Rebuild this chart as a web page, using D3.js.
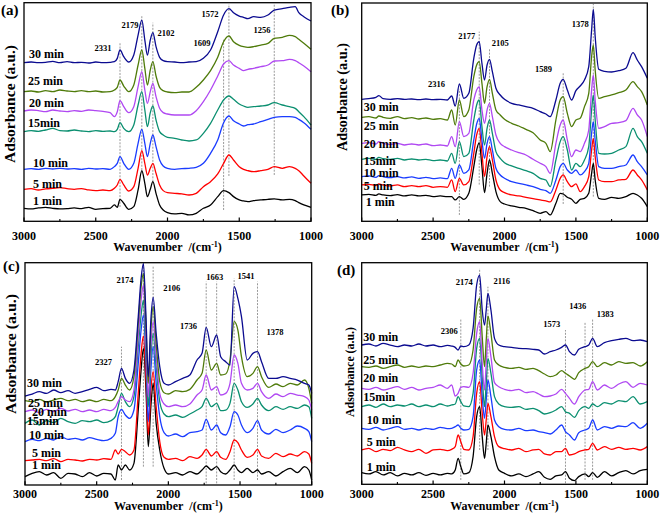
<!DOCTYPE html>
<html><head><meta charset="utf-8">
<script src="https://cdn.jsdelivr.net/npm/d3@7"></script>
<style>
html,body{margin:0;padding:0;background:#fff;}
svg{display:block;font-family:"Liberation Serif","Times New Roman",serif;}
</style></head><body>
<svg id="chart" width="661" height="513"></svg>
<script>
// ---------------- DATA ----------------
const seriesNames = ["1 min","5 min","10 min","15min","20 min","25 min","30 min"];
const xTicksMajor = [3000,2500,2000,1500,1000];
const xTicksMinor = [2750,2250,1750,1250];

// Panel (a)
const aWave = [3000,2950,2900,2850,2800,2750,2700,2650,2600,2550,2500,2450,2400,2370,2350,2331,2305,2270,2235,2205,2179,2158,2140,2120,2102,2080,2055,2030,2000,1950,1900,1850,1800,1750,1700,1650,1609,1572,1540,1500,1470,1440,1400,1350,1300,1256,1200,1150,1110,1085,1050,1000];
const a1  = [39,37,40,42,39,37,38,40,38,42,36,38,39,49,42,66,54,36,44,94,152,114,74,96,119,84,49,34,26,22,24,19,24,39,49,74,92,86,74,64,61,59,62,64,66,67,64,66,62,56,49,42];
const a5  = [96,98,94,97,99,101,98,96,98,94,92,94,92,99,109,126,109,91,104,159,212,174,139,159,174,144,109,92,86,84,82,79,84,104,119,142,174,199,184,164,156,152,149,152,156,164,159,164,159,152,136,114];
const a10 = [156,158,156,159,157,159,157,158,156,159,157,158,156,164,174,194,174,156,174,234,276,234,194,234,259,224,184,166,159,156,158,159,162,174,204,244,296,316,302,292,286,290,292,299,306,312,314,314,312,306,296,276];
const a15 = [269,272,270,274,279,272,271,274,271,269,272,270,271,269,276,296,279,269,289,349,389,334,284,326,346,304,269,259,252,249,244,241,244,264,294,334,364,376,366,352,346,342,344,346,349,356,349,344,339,329,314,289];
const a20 = [331,334,332,329,334,331,329,332,330,334,332,330,326,314,329,362,344,326,344,404,449,394,354,389,414,374,339,326,322,319,319,319,332,359,394,436,472,482,469,459,452,456,459,464,469,481,482,486,482,476,466,449];
const a25 = [389,391,388,392,389,394,391,389,392,389,391,388,389,394,402,424,406,389,409,469,514,459,409,454,479,436,402,392,388,386,388,388,402,424,452,492,539,556,539,528,524,522,524,529,534,549,552,558,554,546,534,516];
const a30 = [476,478,476,477,480,476,479,476,477,475,478,476,477,479,489,514,494,478,499,559,604,544,499,544,566,524,492,482,479,478,476,478,479,489,514,569,619,638,626,616,612,608,614,612,619,634,638,642,644,626,614,601];
const aPeaks = [2331,2179,2102,1609,1572,1256];

// Panel (b)
const bWave = [3000,2950,2900,2880,2850,2800,2750,2700,2650,2600,2550,2500,2450,2400,2370,2345,2316,2285,2250,2215,2195,2177,2158,2140,2122,2105,2085,2060,2030,2000,1950,1900,1850,1800,1750,1710,1680,1640,1610,1589,1560,1530,1500,1470,1440,1410,1390,1378,1365,1340,1300,1250,1200,1150,1100,1070,1040,1000];
const b1  = [79,81,78,82,79,77,80,76,79,76,78,74,76,74,74,64,74,66,84,164,214,236,164,86,144,184,144,89,59,52,46,42,39,32,24,29,19,54,84,82,72,66,54,66,69,84,144,174,124,69,66,72,69,74,84,79,69,44];
const b5  = [109,111,107,112,109,106,109,104,107,104,107,102,104,102,124,89,129,109,119,204,259,279,204,134,194,224,184,124,94,86,79,76,72,68,64,61,58,94,129,139,119,104,112,89,104,134,214,249,194,124,119,119,124,126,154,139,124,94];
const b10 = [134,136,132,137,134,131,134,130,133,129,132,128,130,128,159,129,169,144,154,244,292,309,244,189,234,254,214,159,139,129,119,114,109,104,96,92,84,124,164,174,154,144,154,139,149,174,264,299,244,164,159,159,164,169,199,179,164,139];
const b15 = [186,189,186,192,188,186,189,184,187,184,186,182,184,181,204,174,239,194,204,304,349,364,284,229,279,304,264,209,189,176,166,159,152,144,129,124,104,184,239,254,214,154,174,164,184,224,334,379,304,204,202,204,214,224,279,254,239,204];
const b20 = [234,236,232,239,234,231,234,229,232,229,232,227,229,226,254,224,299,254,264,364,394,404,334,294,334,354,314,259,234,224,214,206,199,186,174,164,144,234,289,304,244,194,214,209,234,274,394,439,364,279,284,294,296,302,339,319,304,254];
const b25 = [312,314,310,316,312,309,314,308,311,307,310,306,308,304,334,289,364,314,334,434,469,479,414,354,404,426,384,334,319,306,294,286,276,266,244,234,209,304,364,374,324,284,304,309,344,384,494,529,454,369,374,379,386,394,419,404,389,349];
const b30 = [366,368,372,377,368,366,368,366,367,365,367,365,366,364,376,346,412,369,384,489,529,539,474,424,469,486,449,399,379,366,354,349,344,339,329,322,314,364,414,426,394,364,392,406,424,464,574,636,554,456,450,448,452,459,506,484,464,429];
const bPeaks = [2316,2177,2105,1589,1378];

// Panel (c)
const cWave = [3000,2950,2900,2850,2800,2750,2700,2650,2600,2550,2500,2450,2400,2370,2350,2327,2300,2270,2240,2210,2190,2174,2156,2140,2122,2106,2085,2060,2030,2000,1950,1900,1850,1800,1765,1736,1700,1663,1635,1600,1570,1541,1515,1490,1450,1410,1378,1350,1300,1250,1200,1150,1100,1050,1020,1000];
const c1  = [25,35,40,30,37,20,35,33,25,37,27,35,33,15,60,45,60,45,65,225,345,410,285,115,235,305,185,105,50,33,37,30,40,33,45,57,45,55,40,33,45,60,45,37,50,37,45,33,40,27,40,50,37,55,45,15];
const c5  = [73,75,77,73,79,70,77,75,72,77,75,79,77,105,93,107,100,90,105,275,395,447,315,150,285,340,235,130,83,77,80,73,85,80,90,107,87,100,83,77,100,135,127,105,83,90,107,87,80,95,85,93,87,100,93,65];
const c10 = [130,137,133,140,135,145,137,140,135,142,137,133,140,155,205,227,210,200,225,365,465,510,375,190,345,415,305,205,157,147,153,145,157,160,165,197,165,180,157,150,175,220,210,180,157,170,193,165,153,167,157,165,177,170,160,130];
const c15 = [185,195,180,193,187,200,190,185,193,190,195,187,193,205,235,275,250,235,265,415,510,555,405,235,385,455,355,250,213,205,210,203,213,225,235,260,235,245,223,225,245,305,285,250,233,243,260,240,223,235,227,235,230,240,235,200];
const c20 = [220,225,217,227,220,230,222,227,220,225,220,227,223,233,250,265,255,250,285,445,555,600,435,265,420,490,385,275,243,235,240,235,243,270,285,330,285,295,270,275,305,390,365,305,285,290,305,280,260,273,265,275,270,265,255,225];
const c25 = [253,250,257,249,255,260,253,257,250,255,250,257,253,265,285,320,300,285,325,485,595,635,475,305,465,535,425,310,277,273,283,280,287,315,335,405,345,365,330,333,375,490,465,385,325,335,355,325,293,303,295,305,300,315,290,245];
const c30 = [267,273,280,275,285,277,283,275,280,287,293,283,287,285,310,350,320,305,345,505,620,665,505,325,495,563,455,355,305,300,310,320,330,375,395,473,415,450,385,370,360,595,560,505,375,395,400,370,320,320,325,320,315,305,300,275];
const cPeaks = [2327,2174,2106,1736,1663,1541,1378];

// Panel (d)
const dWave = [3000,2950,2900,2850,2800,2750,2700,2650,2600,2550,2500,2450,2400,2370,2345,2325,2306,2285,2250,2220,2195,2174,2156,2140,2128,2116,2095,2070,2040,2000,1950,1900,1850,1800,1760,1720,1680,1640,1600,1573,1545,1510,1480,1436,1410,1383,1350,1300,1250,1200,1150,1100,1050,1000];
const d1  = [35,31,38,28,35,25,33,28,35,27,33,28,33,31,43,78,53,31,35,83,203,233,143,78,123,178,143,83,43,33,25,31,23,31,38,21,15,25,28,38,18,11,23,31,23,35,21,38,25,35,41,31,41,45];
const d5  = [103,108,98,105,101,111,103,98,105,93,103,105,101,105,113,148,128,105,103,143,273,308,213,148,193,243,203,143,113,107,103,108,98,103,105,91,88,98,98,108,88,91,98,103,105,123,103,113,105,111,105,108,103,113];
const d10 = [168,165,171,163,168,173,165,168,163,168,165,171,167,168,173,178,168,163,165,203,343,373,263,198,253,313,263,193,173,165,163,168,161,163,158,155,151,163,178,158,148,133,155,163,168,193,163,173,168,175,173,185,168,183];
const d15 = [233,238,231,241,233,238,235,241,233,238,233,241,235,238,241,263,248,235,233,273,408,438,323,233,303,378,333,263,241,233,231,233,225,228,221,211,215,223,233,218,213,201,221,233,228,241,233,245,241,251,248,263,241,248];
const d20 = [288,285,291,283,288,293,285,291,283,288,291,298,288,298,265,273,291,293,291,333,453,488,363,283,363,438,383,305,293,285,281,285,275,278,271,263,265,271,285,273,258,241,263,283,285,308,283,298,288,301,308,291,303,298];
const d25 = [353,351,355,348,353,358,351,355,351,355,353,358,363,361,353,373,361,355,358,403,528,558,443,353,433,505,453,373,358,351,348,351,345,348,341,331,323,328,341,333,325,315,335,348,353,368,353,365,358,368,363,365,355,368];
const d30 = [418,421,415,423,418,413,418,415,421,415,418,413,417,415,411,403,415,413,418,468,598,628,523,478,523,573,523,438,418,413,411,408,407,405,403,391,398,403,411,418,398,388,405,413,418,438,413,425,431,435,438,431,433,428];
const dPeaks = [2306,2174,2116,1573,1436,1383];

// ---------------- LAYOUT / STYLE ----------------
const colors = ["#000000","#ff0000","#1a3cff","#0b8f70","#b048f2","#4f7b0a","#0b0b90"];

const panels = [
  { tag:"(a)", wave:aWave, series:[a1,a5,a10,a15,a20,a25,a30], peaks:aPeaks,
    box:{x0:24,x1:311,y0:2.7,y1:221.3}, yMax:656,
    lineExt:[[43,538],[144,616],[119,596],[34,549],[136,652],[139,652]],
    labelPos:[[2450,520],[2261,589],[2010,565],[1760,535],[1704,622],[1342,574]],
    timeH:[61,112,175,294,356,421,501], timeDx:[9,9,9,4,5,4,5],
    tagPos:[1,15], tickBase:239.5, titleBase:251,
    ylab:{x:15,y:104,len:118,fs:15} },
  { tag:"(b)", wave:bWave, series:[b1,b5,b10,b15,b20,b25,b30], peaks:bPeaks,
    box:{x0:361.7,x1:647.3,y0:3,y1:221.3}, yMax:655,
    lineExt:[[19,396],[110,569],[104,519],[52,444],[74,652]],
    labelPos:[[2476,411],[2265,556],[2029,536],[1727,456],[1470,593]],
    timeH:[59,106,144,182,232,286,342], timeDx:[4,2,2,2,2,2,2],
    tagPos:[331,15], tickBase:239.5, titleBase:251,
    ylab:{x:347,y:97,len:108,fs:14} },
  { tag:"(c)", wave:cWave, series:[c1,c5,c10,c15,c20,c25,c30], peaks:cPeaks,
    box:{x0:25,x1:311.7,y0:262.7,y1:485}, yMax:667,
    lineExt:[[15,415],[55,663],[55,657],[5,610],[5,610],[15,620],[15,610]],
    labelPos:[[2453,370],[2302,615],[1977,592],[1860,477],[1677,625],[1458,627],[1256,460]],
    timeH:[60,97,150,193,220,247,307], timeDx:[7,7,4,2,7,3,2],
    tagPos:[3,271], tickBase:498, titleBase:510,
    ylab:{x:15.5,y:354,len:120,fs:15} },
  { tag:"(d)", wave:dWave, series:[d1,d5,d10,d15,d20,d25,d30], peaks:dPeaks,
    box:{x0:361.7,x1:647.3,y0:262.7,y1:484.3}, yMax:665,
    lineExt:[[13,498],[103,648],[103,593],[3,463],[13,488],[13,498]],
    labelPos:[[2387,460],[2282,607],[2020,610],[1669,480],[1487,535],[1295,512]],
    timeH:[53,128,193,263,318,373,441], timeDx:[5,5,5,1.5,1.5,1.5,1.5],
    tagPos:[337,275], tickBase:498, titleBase:510,
    ylab:{x:354,y:372,len:90,fs:13} }
];

// ---------------- DRAW ----------------
const svg = d3.select("#chart");

panels.forEach(p => {
  const b = p.box;
  const x = d3.scaleLinear().domain([3000,1000]).range([b.x0,b.x1]);
  const y = d3.scaleLinear().domain([0,p.yMax]).range([b.y1,b.y0]);
  const g = svg.append("g");

  // dashed reference lines
  p.peaks.forEach((w,i) => {
    g.append("line")
      .attr("x1",x(w)).attr("x2",x(w))
      .attr("y1",y(p.lineExt[i][0])).attr("y2",y(p.lineExt[i][1]))
      .attr("stroke","#999").attr("stroke-width",1)
      .attr("stroke-dasharray","2,1.3");
  });

  // spectra
  const line = d3.line().x(d=>x(d[0])).y(d=>y(d[1])).curve(d3.curveMonotoneX);
  p.series.forEach((vals,si) => {
    const pts = p.wave.map((w,k)=>[w,vals[k]]);
    g.append("path").attr("d",line(pts))
      .attr("fill","none").attr("stroke",colors[si])
      .attr("stroke-width",1.3).attr("stroke-linejoin","round");
  });

  // frame
  g.append("rect").attr("x",b.x0).attr("y",b.y0)
    .attr("width",b.x1-b.x0).attr("height",b.y1-b.y0)
    .attr("fill","none").attr("stroke","#000").attr("stroke-width",1.3);

  // ticks (inward)
  xTicksMajor.forEach(t => {
    g.append("line").attr("x1",x(t)).attr("x2",x(t))
      .attr("y1",b.y1).attr("y2",b.y1-3.8).attr("stroke","#000").attr("stroke-width",1.2);
    g.append("text").attr("x",x(t)).attr("y",p.tickBase)
      .attr("text-anchor","middle").attr("font-size",12).attr("font-weight","bold")
      .text(t);
  });
  xTicksMinor.forEach(t => {
    g.append("line").attr("x1",x(t)).attr("x2",x(t))
      .attr("y1",b.y1).attr("y2",b.y1-2.3).attr("stroke","#000").attr("stroke-width",1.1);
  });

  // x title
  const xt = g.append("text").attr("x",(b.x0+b.x1)/2).attr("y",p.titleBase)
    .attr("text-anchor","middle").attr("font-size",12).attr("font-weight","bold");
  xt.append("tspan").text("Wavenumber\u00a0 /(cm");
  xt.append("tspan").attr("dy",-4.5).attr("font-size",8).text("-1");
  xt.append("tspan").attr("dy",4.5).text(")");

  // y title
  g.append("text")
    .attr("transform",`translate(${p.ylab.x},${p.ylab.y}) rotate(-90)`)
    .attr("text-anchor","middle").attr("font-size",p.ylab.fs).attr("font-weight","bold")
    .attr("textLength",p.ylab.len).attr("lengthAdjust","spacingAndGlyphs")
    .text("Adsorbance (a.u.)");

  // panel tag
  g.append("text").attr("x",p.tagPos[0]).attr("y",p.tagPos[1])
    .attr("font-size",15).attr("font-weight","bold").text(p.tag);

  // peak labels
  p.peaks.forEach((w,i) => {
    g.append("text").attr("x",x(p.labelPos[i][0])).attr("y",y(p.labelPos[i][1])+3)
      .attr("text-anchor","middle").attr("font-size",8.5).attr("font-weight","bold")
      .text(String(w));
  });

  // time labels
  seriesNames.forEach((nm,si) => {
    g.append("text").attr("x",b.x0+p.timeDx[si]).attr("y",y(p.timeH[si])+4)
      .attr("font-size",12).attr("font-weight","bold").attr("fill","#000")
      .text(nm);
  });
});
</script>
</body></html>
